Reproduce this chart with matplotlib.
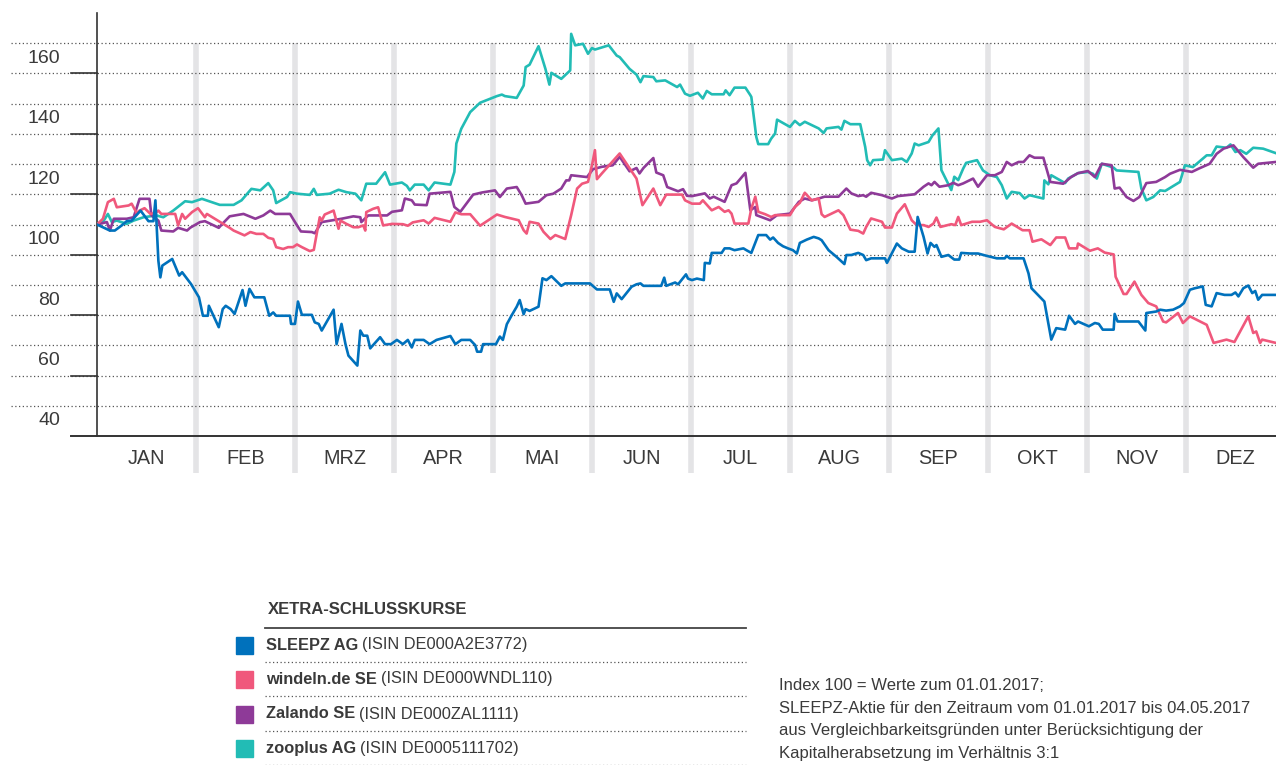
import matplotlib
matplotlib.use("Agg")
import matplotlib.pyplot as plt
from matplotlib.lines import Line2D
from matplotlib.patches import Rectangle

plt.rcParams['font.family'] = ['Liberation Sans', 'DejaVu Sans']

# x = month position (0 = 1 Jan, 1 = 1 Feb, ...), y = index (100 = 01.01.2017)
sleepz_m = [0, 0.13, 0.18, 0.25, 0.30, 0.35, 0.44, 0.52, 0.57, 0.59, 0.62, 0.64, 0.66, 0.76, 0.83, 0.86, 0.95,
            1.03, 1.07, 1.12, 1.13, 1.23, 1.27, 1.30, 1.35, 1.39, 1.47, 1.50, 1.54, 1.59, 1.69, 1.74, 1.78, 1.81,
            1.95, 1.96, 2.00, 2.03, 2.07, 2.17, 2.20, 2.24, 2.27, 2.39, 2.42, 2.47, 2.51, 2.54, 2.63, 2.66, 2.69,
            2.73, 2.76, 2.86, 2.91, 2.97, 3.03, 3.09, 3.14, 3.18, 3.21, 3.30, 3.36, 3.43, 3.57, 3.62, 3.68, 3.77,
            3.82, 3.84, 3.88, 3.90, 4.03, 4.07, 4.10, 4.14, 4.19, 4.24, 4.27, 4.31, 4.33, 4.37, 4.46, 4.50, 4.54,
            4.59, 4.64, 4.69, 4.73, 4.98, 5.05, 5.18, 5.22, 5.25, 5.30, 5.40, 5.45, 5.49, 5.52, 5.70, 5.73, 5.75,
            5.84, 5.87, 5.95, 5.97, 6.01, 6.06, 6.13, 6.14, 6.19, 6.21, 6.31, 6.34, 6.39, 6.44, 6.53, 6.56, 6.61,
            6.68, 6.76, 6.80, 6.83, 6.88, 6.93, 6.98, 7.03, 7.07, 7.10, 7.17, 7.24, 7.29, 7.32, 7.39, 7.47, 7.55,
            7.57, 7.62, 7.69, 7.74, 7.77, 7.82, 7.96, 7.98, 8.08, 8.13, 8.20, 8.26, 8.29, 8.35, 8.39, 8.42, 8.46,
            8.48, 8.53, 8.60, 8.66, 8.71, 8.73, 8.82, 8.90, 8.99, 9.09, 9.17, 9.19, 9.22, 9.36, 9.41, 9.44, 9.57,
            9.64, 9.69, 9.78, 9.82, 9.88, 9.91, 10.02, 10.08, 10.12, 10.16, 10.27, 10.28, 10.31, 10.52, 10.59,
            10.60, 10.70, 10.74, 10.80, 10.87, 10.94, 10.98, 11.04, 11.09, 11.17, 11.20, 11.26, 11.31, 11.39,
            11.46, 11.50, 11.53, 11.58, 11.63, 11.67, 11.70, 11.73, 11.77, 11.91]
sleepz_v = [100, 98.0, 98.0, 99.7, 101.1, 101.3, 104.6, 101.1, 101.1, 108.0, 88.0, 82.5, 86.4, 88.6, 83.1, 84.2, 80.3,
            75.9, 69.8, 69.8, 73.1, 66.0, 72.0, 73.1, 72.0, 70.4, 78.3, 73.1, 78.7, 75.9, 75.9, 69.8, 70.9, 69.8,
            69.8, 67.1, 67.1, 74.5, 70.1, 70.1, 67.6, 67.1, 64.9, 71.8, 60.4, 67.1, 60.4, 56.6, 53.3, 64.9, 63.2,
            63.2, 59.0, 62.7, 60.4, 60.4, 61.8, 60.4, 61.8, 59.3, 61.8, 61.8, 60.4, 61.8, 63.1, 60.4, 61.8, 61.8,
            60.1, 57.9, 57.9, 60.4, 60.4, 62.9, 61.8, 67.0, 70.0, 72.8, 75.0, 70.3, 72.0, 71.4, 72.8, 82.2, 81.6,
            82.9, 81.3, 79.7, 80.5, 80.5, 78.5, 78.5, 74.4, 77.2, 75.3, 79.4, 80.2, 80.5, 79.7, 79.7, 82.4, 79.7,
            80.8, 80.2, 83.5, 82.1, 81.6, 82.1, 81.6, 87.3, 87.1, 90.6, 90.6, 92.1, 92.1, 91.5, 92.1, 91.5, 90.6,
            96.5, 96.5, 95.0, 95.7, 93.9, 92.8, 92.1, 91.5, 90.4, 93.9, 95.0, 95.9, 95.4, 94.8, 91.5, 89.3, 86.9,
            89.9, 89.9, 90.6, 89.9, 88.2, 88.8, 88.8, 87.3, 93.7, 92.1, 91.0, 91.0, 102.5, 95.9, 90.4, 93.9, 92.6,
            93.2, 89.3, 89.9, 88.4, 88.4, 90.6, 90.4, 90.4, 89.6, 88.8, 88.8, 89.6, 88.8, 88.8, 83.8, 78.9, 74.5,
            61.9, 65.7, 65.2, 69.8, 67.1, 67.9, 66.3, 67.4, 67.1, 65.2, 65.2, 70.4, 67.9, 67.9, 64.9,
            70.7, 71.2, 71.8, 71.5, 71.8, 72.9, 74.0, 78.4, 78.9, 79.5, 73.4, 72.9, 77.3, 76.7,
            76.7, 77.5, 76.2, 78.9, 79.8, 77.3, 78.0, 75.1, 76.7, 76.7]

windeln_m = [0, 0.06, 0.11, 0.17, 0.20, 0.32, 0.35, 0.40, 0.43, 0.48, 0.54, 0.59, 0.62, 0.65, 0.79, 0.82, 0.86, 0.89,
             0.96, 1.02, 1.09, 1.11, 1.34, 1.38, 1.49, 1.55, 1.61, 1.68, 1.73, 1.78, 1.81, 1.88, 1.93, 1.98, 2.02,
             2.07, 2.15, 2.19, 2.25, 2.27, 2.30, 2.39, 2.44, 2.46, 2.52, 2.59, 2.64, 2.69, 2.71, 2.72, 2.79, 2.84,
             2.89, 2.98, 3.09, 3.14, 3.19, 3.30, 3.35, 3.41, 3.57, 3.62, 3.68, 3.77, 3.87, 4.04, 4.12, 4.26, 4.31,
             4.34, 4.37, 4.46, 4.51, 4.58, 4.63, 4.73, 4.79, 4.85, 4.90, 4.96, 5.00, 5.03, 5.05, 5.10, 5.28, 5.45,
             5.51, 5.62, 5.69, 5.75, 5.91, 5.94, 6.01, 6.09, 6.12, 6.21, 6.28, 6.34, 6.38, 6.41, 6.44, 6.58, 6.61,
             6.65, 6.68, 6.75, 6.81, 6.85, 7.00, 7.05, 7.10, 7.15, 7.22, 7.29, 7.32, 7.35, 7.49, 7.54, 7.61, 7.69,
             7.74, 7.77, 7.82, 7.93, 7.96, 8.03, 8.08, 8.16, 8.23, 8.28, 8.35, 8.40, 8.45, 8.48, 8.52, 8.63, 8.67,
             8.70, 8.73, 8.84, 8.92, 8.99, 9.07, 9.16, 9.24, 9.35, 9.42, 9.45, 9.54, 9.63, 9.69, 9.78, 9.82, 9.90,
             9.91, 10.03, 10.11, 10.18, 10.27, 10.29, 10.37, 10.40, 10.48, 10.55, 10.62, 10.70, 10.77, 10.80,
             10.92, 10.97, 11.04, 11.21, 11.28, 11.41, 11.49, 11.63, 11.68, 11.71, 11.75, 11.77, 11.91]
windeln_v = [100, 101.9, 107.4, 108.5, 105.7, 106.3, 106.9, 103.8, 104.6, 105.4, 103.5, 103.8, 104.6, 103.5, 103.5,
             99.7, 103.5, 101.9, 104.1, 105.4, 102.4, 103.5, 98.9, 98.0, 96.4, 97.5, 96.9, 96.9, 95.6, 95.2, 92.5,
             91.9, 92.5, 92.5, 93.4, 92.5, 91.2, 91.6, 102.4, 101.3, 103.3, 104.6, 98.6, 101.3, 100.2, 99.1, 99.1,
             99.7, 98.0, 104.1, 105.2, 105.7, 99.7, 100.2, 100.1, 99.6, 100.7, 101.4, 100.3, 102.2, 100.9, 104.0,
             103.4, 103.4, 99.6, 103.3, 102.5, 101.4, 98.1, 97.0, 100.9, 100.3, 97.6, 95.2, 96.5, 95.2, 103.1,
             111.9, 113.5, 114.1, 119.6, 124.6, 115.0, 116.9, 123.5, 115.2, 106.4, 111.9, 106.4, 109.9, 109.9,
             108.0, 106.9, 106.9, 108.0, 104.7, 105.8, 104.2, 104.7, 103.6, 100.3, 100.3, 105.3, 109.2, 104.2,
             103.4, 102.5, 103.1, 103.1, 105.8, 107.2, 110.5, 108.0, 108.6, 103.4, 102.5, 104.7, 103.1, 98.3,
             97.9, 97.0, 99.2, 102.0, 100.9, 99.0, 99.0, 103.6, 106.7, 101.4, 99.8, 99.8, 99.2, 100.3, 102.3,
             99.2, 100.1, 99.8, 102.5, 99.8, 100.9, 100.9, 101.4, 99.2, 98.4, 100.3, 98.1, 98.1, 94.3, 95.1, 93.2,
             95.7, 95.7, 92.1, 92.1, 93.7, 91.3, 92.1, 90.7, 90.1, 82.7, 77.0, 77.0, 81.1, 76.7, 74.0, 72.9, 67.9,
             67.6, 70.7, 67.4, 69.6, 66.8, 60.8, 61.9, 61.1, 69.6, 64.1, 64.6, 60.8, 61.9, 60.8]

zalando_m = [0, 0.10, 0.13, 0.17, 0.30, 0.37, 0.43, 0.53, 0.55, 0.62, 0.65, 0.77, 0.82, 0.91, 0.94, 1.04, 1.09, 1.23,
             1.26, 1.34, 1.48, 1.60, 1.68, 1.75, 1.80, 1.95, 2.00, 2.06, 2.17, 2.20, 2.27, 2.47, 2.59, 2.66, 2.67,
             2.74, 2.93, 2.98, 3.08, 3.11, 3.18, 3.21, 3.33, 3.36, 3.57, 3.61, 3.67, 3.80, 3.89, 4.02, 4.07, 4.14,
             4.24, 4.29, 4.33, 4.46, 4.54, 4.61, 4.69, 4.74, 4.77, 4.79, 4.95, 5.01, 5.10, 5.21, 5.28, 5.38, 5.45,
             5.48, 5.52, 5.62, 5.65, 5.72, 5.76, 5.87, 5.92, 5.96, 6.01, 6.14, 6.19, 6.23, 6.34, 6.41, 6.46, 6.55,
             6.60, 6.65, 6.66, 6.80, 6.87, 7.00, 7.05, 7.09, 7.15, 7.22, 7.29, 7.35, 7.49, 7.57, 7.62, 7.69, 7.74,
             7.77, 7.82, 7.93, 8.03, 8.09, 8.26, 8.35, 8.40, 8.43, 8.46, 8.51, 8.60, 8.65, 8.70, 8.75, 8.85, 8.90,
             8.99, 9.07, 9.14, 9.19, 9.24, 9.31, 9.36, 9.42, 9.47, 9.56, 9.63, 9.76, 9.84, 9.91, 10.01, 10.08,
             10.15, 10.25, 10.28, 10.33, 10.40, 10.47, 10.53, 10.60, 10.70, 10.79, 10.84, 10.94, 11.06, 11.13,
             11.24, 11.31, 11.38, 11.48, 11.58, 11.68, 11.73, 11.91]
zalando_v = [100, 100.8, 98.0, 101.9, 101.9, 102.4, 108.5, 108.5, 103.0, 101.3, 98.0, 97.7, 98.9, 98.0, 98.9, 100.8,
             101.1, 98.9, 100, 102.7, 103.5, 101.9, 103.0, 104.6, 103.5, 103.5, 100.8, 97.7, 97.5, 97.1, 100.8,
             101.9, 102.7, 102.4, 100.8, 103.0, 103.0, 104.2, 104.7, 108.6, 108.0, 106.6, 106.4, 110.2, 110.8,
             105.8, 104.2, 109.9, 110.6, 111.3, 109.1, 111.9, 112.4, 109.7, 106.9, 107.5, 109.7, 110.2, 111.9,
             114.6, 114.6, 116.3, 115.7, 118.3, 119.1, 119.6, 122.4, 117.6, 118.7, 116.9, 118.7, 122.0, 117.2,
             116.3, 112.4, 111.0, 111.7, 109.5, 109.4, 110.3, 108.6, 109.2, 107.5, 113.0, 113.6, 117.1, 104.7,
             105.8, 103.1, 101.4, 103.1, 103.6, 105.8, 107.5, 108.6, 108.0, 108.6, 109.2, 109.2, 111.9, 110.3,
             109.4, 109.7, 109.2, 110.5, 109.7, 108.6, 109.4, 110.0, 112.5, 113.6, 113.0, 114.1, 112.5, 113.0,
             113.8, 113.0, 113.6, 115.2, 112.5, 116.3, 116.3, 117.4, 120.7, 119.6, 120.7, 120.7, 122.9, 122.1,
             122.1, 114.1, 113.5, 115.7, 117.0, 117.7, 115.7, 120.1, 119.6, 111.9, 112.2, 109.1, 107.8, 109.1,
             113.7, 114.1, 115.7, 116.8, 118.1, 117.4, 118.5, 120.1, 123.4, 125.1, 126.2, 122.3, 118.8, 120.1,
             120.7]

zooplus_m = [0, 0.06, 0.11, 0.15, 0.20, 0.30, 0.37, 0.47, 0.60, 0.67, 0.77, 0.89, 0.96, 1.06, 1.24, 1.38, 1.46, 1.56,
             1.65, 1.73, 1.78, 1.81, 1.92, 1.95, 2.02, 2.15, 2.19, 2.22, 2.35, 2.44, 2.52, 2.61, 2.67, 2.72, 2.82,
             2.91, 2.96, 3.08, 3.13, 3.16, 3.21, 3.30, 3.35, 3.41, 3.57, 3.61, 3.63, 3.68, 3.77, 3.87, 3.97, 4.04,
             4.09, 4.12, 4.24, 4.31, 4.33, 4.37, 4.46, 4.53, 4.57, 4.59, 4.69, 4.78, 4.79, 4.83, 4.91, 4.96, 5.00,
             5.03, 5.17, 5.25, 5.28, 5.38, 5.45, 5.49, 5.52, 5.62, 5.65, 5.74, 5.86, 5.89, 5.94, 5.99, 6.07, 6.12,
             6.16, 6.21, 6.33, 6.35, 6.39, 6.44, 6.55, 6.60, 6.61, 6.66, 6.68, 6.78, 6.81, 6.85, 6.87, 6.93, 7.00,
             7.05, 7.10, 7.15, 7.29, 7.34, 7.37, 7.49, 7.52, 7.55, 7.61, 7.71, 7.76, 7.78, 7.81, 7.84, 7.94, 7.96,
             8.03, 8.13, 8.18, 8.23, 8.26, 8.30, 8.40, 8.44, 8.50, 8.53, 8.58, 8.63, 8.66, 8.70, 8.75, 8.78, 8.89,
             8.95, 9.02, 9.09, 9.14, 9.19, 9.24, 9.32, 9.37, 9.42, 9.56, 9.57, 9.61, 9.64, 9.78, 9.81, 9.91, 10.01,
             10.06, 10.10, 10.15, 10.27, 10.30, 10.52, 10.55, 10.60, 10.67, 10.74, 10.79, 10.94, 10.99, 11.07,
             11.21, 11.26, 11.31, 11.41, 11.45, 11.50, 11.55, 11.61, 11.68, 11.78, 11.91]
zooplus_v = [100, 100.8, 103.5, 100.8, 101.3, 100.2, 101.3, 102.4, 103.0, 102.4, 104.6, 107.7, 107.4, 108.5, 106.5,
             106.5, 108.0, 111.8, 111.3, 113.7, 111.3, 107.1, 109.1, 110.7, 110.2, 109.8, 111.8, 109.8, 110.2,
             111.5, 110.7, 110.2, 108.0, 113.5, 113.5, 117.3, 113.2, 113.9, 112.8, 111.3, 113.2, 113.2, 111.3,
             113.9, 113.2, 117.4, 126.8, 131.7, 137.2, 140.3, 141.6, 142.5, 143.0, 142.5, 141.9, 146.0, 152.1,
             152.9, 159.0, 151.5, 146.3, 150.2, 148.2, 151.0, 163.1, 159.3, 159.8, 156.5, 158.4, 157.9, 159.3,
             155.9, 155.4, 151.5, 149.6, 147.1, 149.1, 148.8, 147.4, 147.7, 145.5, 146.3, 143.3, 142.6, 143.6,
             141.7, 144.2, 143.1, 143.1, 144.4, 142.8, 145.3, 145.3, 142.8, 142.2, 129.0, 126.6, 126.6, 128.4,
             130.1, 134.7, 133.6, 132.3, 134.3, 132.9, 134.0, 131.8, 130.3, 131.8, 132.3, 131.4, 134.3, 133.2,
             133.2, 125.7, 121.3, 119.6, 121.3, 121.5, 124.6, 121.3, 121.8, 120.7, 123.5, 126.8, 126.2, 127.3,
             129.5, 131.8, 118.0, 114.7, 111.4, 115.8, 114.7, 118.5, 120.4, 121.3, 117.9, 116.3, 115.7, 113.0,
             108.6, 110.8, 110.4, 108.6, 109.7, 108.6, 114.6, 113.3, 116.3, 113.7, 115.2, 117.0, 117.4, 116.8,
             115.2, 120.1, 118.8, 117.9, 117.4, 111.9, 108.0, 109.1, 111.3, 111.1, 114.1, 119.6, 119.0, 122.9,
             122.9, 125.8, 125.4, 126.5, 124.0, 124.6, 123.4, 125.4, 125.1, 123.6]

months = ['JAN', 'FEB', 'MRZ', 'APR', 'MAI', 'JUN', 'JUL', 'AUG', 'SEP', 'OKT', 'NOV', 'DEZ']
y_labels = [40, 60, 80, 100, 120, 140, 160]
grid_values = list(range(40, 161, 10))

names = ['SLEEPZ AG', 'windeln.de SE', 'Zalando SE', 'zooplus AG']
isins = ['DE000A2E3772', 'DE000WNDL110', 'DE000ZAL1111', 'DE0005111702']
colors = ['#0071bc', '#f0587c', '#8e3a98', '#22bcb5']

text_c = '#3a3a3a'
W, H = 1276, 765

fig = plt.figure(figsize=(W / 100, H / 100), dpi=100)
ax = fig.add_axes([97 / W, 1 - 436 / H, (W - 97) / W, (436 - 13) / H])
ax.set_xlim(0, 11.91)
ax.set_ylim(30, 170)
for s in ['top', 'right', 'bottom']:
    ax.spines[s].set_visible(False)
ax.spines['left'].set_color('#333333')
ax.spines['left'].set_linewidth(1.2)
ax.set_xticks([])
ax.set_yticks([])

ytr = ax.get_yaxis_transform()
x_left = (11 - 97) / (W - 97)
x_tick = (71 - 97) / (W - 97)

# month separators
for i in range(1, 12):
    ax.plot([i, i], [160, 17.7], color='#e4e4e6', lw=4, solid_capstyle='butt',
            clip_on=False, zorder=0)

# dotted grid, solid ticks at odd tens
for g in grid_values:
    ax.plot([x_left, 1], [g, g], transform=ytr, color='#555555', lw=0.9,
            linestyle=(0, (1, 2)), clip_on=False, zorder=1)
    if g % 20 == 10:
        ax.plot([x_tick, 0], [g, g], transform=ytr, color='#333333', lw=1.2,
                clip_on=False, zorder=2)
ax.plot([x_tick, 1], [30, 30], transform=ytr, color='#333333', lw=1.4,
        clip_on=False, zorder=2)

for v in y_labels:
    ax.text((60 - 97) / (W - 97), v - 5, str(v), transform=ytr, ha='right', va='center',
            fontsize=14, color=text_c)

for i, mname in enumerate(months):
    ax.text(i + 0.5, 22.4, mname, ha='center', va='center', fontsize=14.3, color=text_c,
            clip_on=False)

series = [(zooplus_m, zooplus_v, colors[3]), (zalando_m, zalando_v, colors[2]),
          (windeln_m, windeln_v, colors[1]), (sleepz_m, sleepz_v, colors[0])]
for xs, ys, c in series:
    ax.plot(xs, ys, color=c, lw=1.9, zorder=3, solid_joinstyle='round')


def fx(x):
    return x / W


def fy(y):
    return 1 - y / H


# legend block
fig.text(fx(268), fy(610), 'XETRA-SCHLUSSKURSE', fontsize=12, fontweight='bold',
         color=text_c, va='center')
fig.add_artist(Line2D([fx(265), fx(746)], [fy(628), fy(628)], color='#444444', lw=1.3))
rows = [645, 679, 714, 748]
for i, y in enumerate(rows):
    fig.add_artist(Rectangle((fx(236), fy(y + 8.5)), 17 / W, 17 / H, color=colors[i],
                             transform=fig.transFigure))
    t = fig.text(fx(266), fy(y), names[i], fontsize=11.8, fontweight='bold', color=text_c,
                 va='center')
    fig.canvas.draw()
    bb = t.get_window_extent()
    fig.text(bb.x1 / W + 4 / W, fy(y), '(ISIN ' + isins[i] + ')', fontsize=11.8,
             color=text_c, va='center')
    fig.add_artist(Line2D([fx(265), fx(746)], [fy(y + 17), fy(y + 17)], color='#555555',
                          lw=0.9, linestyle=(0, (1, 2))))

note = ['Index 100 = Werte zum 01.01.2017;',
        'SLEEPZ-Aktie für den Zeitraum vom 01.01.2017 bis 04.05.2017',
        'aus Vergleichbarkeitsgründen unter Berücksichtigung der',
        'Kapitalherabsetzung im Verhältnis 3:1']
for i, line in enumerate(note):
    fig.text(fx(779), fy(686 + i * 22.5), line, fontsize=12, color=text_c, va='center')

fig.savefig('out.png', dpi=100)
